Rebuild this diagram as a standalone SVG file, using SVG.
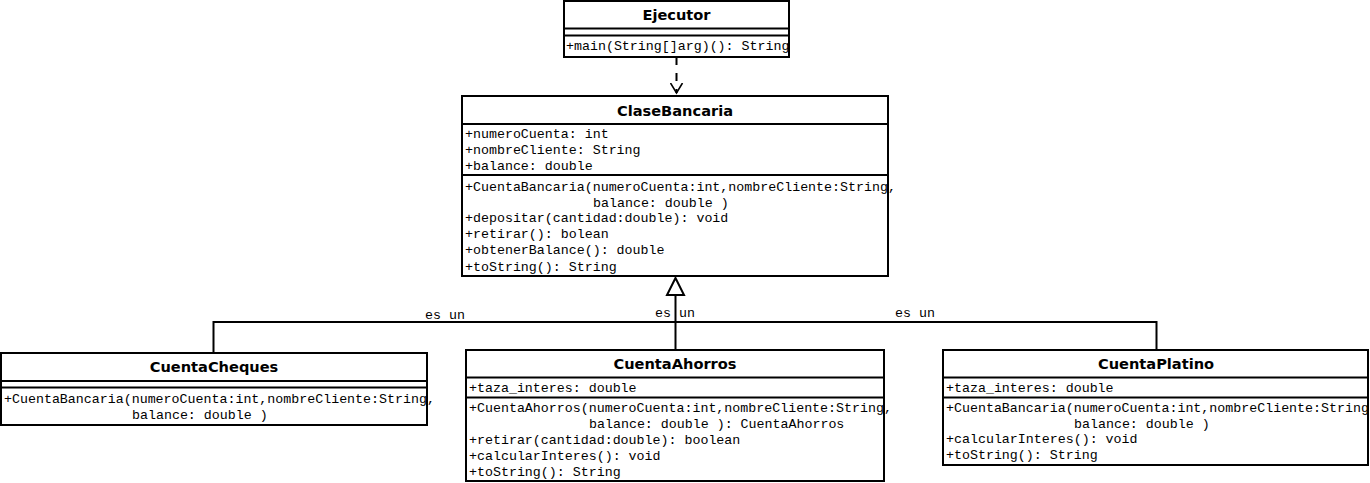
<svg xmlns="http://www.w3.org/2000/svg" width="1370" height="483" viewBox="0 0 1370 483">
<defs>
<style>
.box{fill:#fff;stroke:#000;stroke-width:2}
.sep{stroke:#000;stroke-width:2}
.t{font-family:"DejaVu Sans",Verdana,sans-serif;font-weight:bold;font-size:14.6px;text-anchor:middle;fill:#000}
.m{font-family:"Liberation Mono","Courier New",monospace;font-size:13.3px;fill:#000}
.c{fill:none;stroke:#000;stroke-width:2}
</style>
<marker id="open" markerWidth="12" markerHeight="14" refX="10" refY="7" orient="auto" markerUnits="userSpaceOnUse">
<path d="M0,1 L10,7 L0,13" fill="none" stroke="#000" stroke-width="1.6"/>
</marker>
</defs>
<rect width="1370" height="483" fill="#fff"/>

<g id="connectors">
<line x1="676.5" y1="57" x2="676.5" y2="93" stroke="#000" stroke-width="2" stroke-dasharray="8,8" marker-end="url(#open)"/>
<path class="c" d="M675.5,295 V349"/>
<path class="c" d="M213.5,353 V322 H1156.5 V350"/>
<polygon points="675.5,278 667,295 684,295" fill="#fff" stroke="#000" stroke-width="2"/>
<text class="m" x="425" y="319">es un</text>
<text class="m" x="655" y="317">es</text>
<text class="m" x="679" y="317">un</text>
<text class="m" x="895" y="317">es un</text>
</g>

<g id="Ejecutor">
<rect class="box" x="564" y="1" width="225" height="56"/>
<line class="sep" x1="564" y1="28.5" x2="789" y2="28.5"/>
<line class="sep" x1="564" y1="35.5" x2="789" y2="35.5"/>
<text class="t" x="676.5" y="20">Ejecutor</text>
<text class="m" x="566" y="50">+main(String[]arg)(): String</text>
</g>

<g id="ClaseBancaria">
<rect class="box" x="462" y="96" width="426" height="180"/>
<line class="sep" x1="462" y1="124" x2="888" y2="124"/>
<line class="sep" x1="462" y1="175" x2="888" y2="175"/>
<text class="t" x="675" y="115.5">ClaseBancaria</text>
<text class="m" x="465" y="137.5">+numeroCuenta: int</text>
<text class="m" x="465" y="153.5">+nombreCliente: String</text>
<text class="m" x="465" y="169.5">+balance: double</text>
<text class="m" x="465" y="190.5">+CuentaBancaria(numeroCuenta:int,nombreCliente:String,</text>
<text class="m" x="593" y="206.5">balance: double )</text>
<text class="m" x="465" y="222">+depositar(cantidad:double): void</text>
<text class="m" x="465" y="238">+retirar(): bolean</text>
<text class="m" x="465" y="254">+obtenerBalance(): double</text>
<text class="m" x="465" y="270.5">+toString(): String</text>
</g>

<g id="CuentaCheques">
<rect class="box" x="1" y="353" width="426" height="72"/>
<line class="sep" x1="1" y1="381" x2="427" y2="381"/>
<line class="sep" x1="1" y1="387.5" x2="427" y2="387.5"/>
<text class="t" x="214" y="372">CuentaCheques</text>
<text class="m" x="4" y="402.5">+CuentaBancaria(numeroCuenta:int,nombreCliente:String,</text>
<text class="m" x="132" y="418.5">balance: double )</text>
</g>

<g id="CuentaAhorros">
<rect class="box" x="466" y="350" width="418" height="131"/>
<line class="sep" x1="466" y1="377.5" x2="884" y2="377.5"/>
<line class="sep" x1="466" y1="397.5" x2="884" y2="397.5"/>
<text class="t" x="675" y="369">CuentaAhorros</text>
<text class="m" x="469" y="391.5">+taza_interes: double</text>
<text class="m" x="469" y="412">+CuentaAhorros(numeroCuenta:int,nombreCliente:String,</text>
<text class="m" x="589" y="428">balance: double ): CuentaAhorros</text>
<text class="m" x="469" y="444">+retirar(cantidad:double): boolean</text>
<text class="m" x="469" y="459.5">+calcularInteres(): void</text>
<text class="m" x="469" y="475.5">+toString(): String</text>
</g>

<g id="CuentaPlatino">
<rect class="box" x="943" y="350" width="425" height="115"/>
<line class="sep" x1="943" y1="377.5" x2="1368" y2="377.5"/>
<line class="sep" x1="943" y1="397.5" x2="1368" y2="397.5"/>
<text class="t" x="1156" y="369">CuentaPlatino</text>
<text class="m" x="946" y="391.5">+taza_interes: double</text>
<text class="m" x="946" y="412">+CuentaBancaria(numeroCuenta:int,nombreCliente:String,</text>
<text class="m" x="1074" y="428">balance: double )</text>
<text class="m" x="946" y="443">+calcularInteres(): void</text>
<text class="m" x="946" y="458.5">+toString(): String</text>
</g>
</svg>
